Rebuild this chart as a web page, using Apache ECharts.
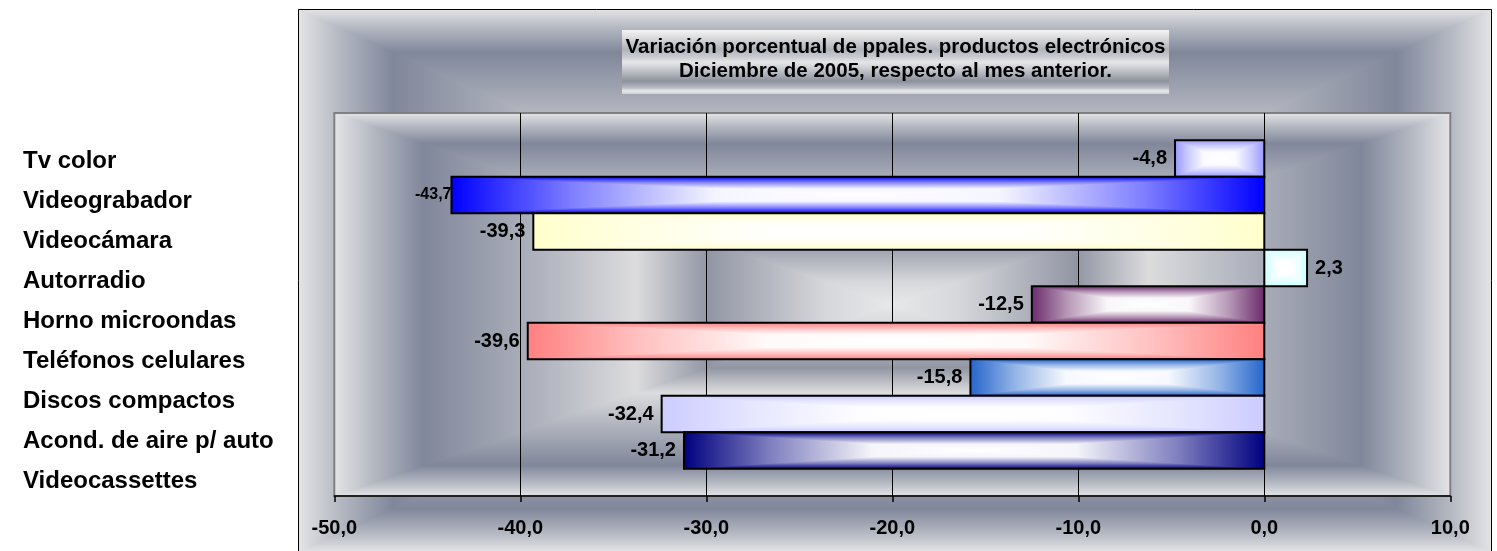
<!DOCTYPE html>
<html>
<head>
<meta charset="utf-8">
<script src="https://cdn.jsdelivr.net/npm/echarts/dist/echarts.min.js"></script>
<style>
html,body{margin:0;padding:0;background:#ffffff;}
#c{width:1497px;height:551px;}
</style>
</head>
<body>
<div id="c"></div>
<script>
// ---------- data ----------
const categories = ['Tv color','Videograbador','Videocámara','Autorradio','Horno microondas','Teléfonos celulares','Discos compactos','Acond. de aire p/ auto','Videocassettes'];
const values = [-4.8, -43.7, -39.3, 2.3, -12.5, -39.6, -15.8, -32.4, -31.2];
const axisMin = -50, axisMax = 10, axisStep = 10;
const titleLines = ['Variación porcentual de ppales. productos electrónicos', 'Diciembre de 2005, respecto al mes anterior.'];

// ---------- styles ----------
const barColors = ['#9999ff','#0000ff','#ffffcc','#ccffff','#6b2c6b','#ff8080','#2666cc','#ccccff','#000080'];
const labelSizes = [20,16,20,20,20,20,20,20,20];
const labelGaps = [8,0,8,8,8,8,8,8,8];
const FONT = "Arial, 'Liberation Sans', sans-serif";
const BAR_FILL = 328.5 / 383;

const GRID = {left: 334.3, top: 113, width: 1116, height: 383};
const FRAME = {x0: 298, y0: 9, x1: 1492, y1: 552};
const TBOX = {x0: 622, y0: 30, x1: 1169, y1: 94};

const bgStops = [
  [0.00,'#e8e8ea'],[0.12,'#d6d7db'],[0.33,'#9296a4'],[0.46,'#dcdcde'],
  [0.62,'#b3b6c0'],[0.84,'#80879a'],[0.93,'#b4b8c2'],[1.00,'#e4e4e6']
];

function hex(c){c=c.replace('#','');return [0,2,4].map(i=>parseInt(c.substr(i,2),16));}
function mix(a,b,f){const A=hex(a),B=hex(b);return 'rgb('+A.map((v,i)=>Math.round(v+(B[i]-v)*f)).join(',')+')';}

function rectGradient(x0,y0,x1,y1,stops,z){
  const cx=(x0+x1)/2, cy=(y0+y1)/2;
  const hs=[];
  for(let i=stops.length-1;i>=0;i--) hs.push({offset:(1-stops[i][0])/2,color:stops[i][1]});
  for(let i=1;i<stops.length;i++) hs.push({offset:(1+stops[i][0])/2,color:stops[i][1]});
  const top=stops.slice().reverse().map(s=>({offset:1-s[0],color:s[1]}));
  const bot=stops.map(s=>({offset:s[0],color:s[1]}));
  const els=[
    {type:'rect',shape:{x:x0,y:y0,width:x1-x0,height:y1-y0},style:{fill:new echarts.graphic.LinearGradient(0,0,1,0,hs)}},
    {type:'polygon',shape:{points:[[x0,y0],[x1,y0],[cx,cy]]},style:{fill:new echarts.graphic.LinearGradient(0,0,0,1,top)}},
    {type:'polygon',shape:{points:[[x0,y1],[x1,y1],[cx,cy]]},style:{fill:new echarts.graphic.LinearGradient(0,0,0,1,bot)}}
  ];
  if(z!==undefined) els.forEach(e=>{e.z=z;});
  return els;
}

function fmt(v){return v.toFixed(1).replace('.',',');}

const gx0=GRID.left, gy0=GRID.top, gx1=GRID.left+GRID.width, gy1=GRID.top+GRID.height;

const graphics = []
  .concat(rectGradient(FRAME.x0,FRAME.y0,FRAME.x1,FRAME.y1,bgStops,-100))
  .concat([{type:'polyline',z:-99,shape:{points:[[FRAME.x0+0.5,FRAME.y1],[FRAME.x0+0.5,FRAME.y0+0.5],[FRAME.x1-0.5,FRAME.y0+0.5],[FRAME.x1-0.5,FRAME.y1]]},style:{fill:null,stroke:'#000',lineWidth:1}}])
  .concat(rectGradient(gx0,gy0,gx1,gy1,bgStops,-98))
  .concat([{type:'rect',z:-97,shape:{x:gx0,y:gy0,width:GRID.width,height:GRID.height},style:{fill:null,stroke:'#808080',lineWidth:2}}])
  .concat([{type:'rect',z:-96,shape:{x:TBOX.x0,y:TBOX.y0,width:TBOX.x1-TBOX.x0,height:TBOX.y1-TBOX.y0},
    style:{fill:new echarts.graphic.LinearGradient(0,0,0,1,[
      {offset:0,color:'#f4f4f4'},{offset:0.1,color:'#e0e0e2'},{offset:0.3,color:'#b0b3bc'},
      {offset:0.42,color:'#c8cad0'},{offset:0.5,color:'#e6e6e8'},{offset:0.58,color:'#d0d2d6'},
      {offset:0.8,color:'#8c909c'},{offset:0.9,color:'#b8bac2'},{offset:0.95,color:'#e8e8ea'},{offset:1,color:'#d0d0d4'}])}}])
  .concat([{type:'text',z:10,style:{text:titleLines.join('\n'),x:(TBOX.x0+TBOX.x1)/2,y:35,align:'center',verticalAlign:'top',
    font:'bold 20.5px '+FONT,lineHeight:24,fill:'#000'}}]);

const chart = echarts.init(document.getElementById('c'), null, {renderer:'canvas'});
chart.setOption({
  animation:false,
  backgroundColor:'#ffffff',
  graphic:{elements:graphics},
  legend:{
    data:categories, orient:'vertical', left:13, top:144,
    itemWidth:0, itemHeight:24, itemGap:16, icon:'rect', selectedMode:false,
    itemStyle:{opacity:0},
    textStyle:{fontSize:24, fontWeight:'bold', fontFamily:FONT, color:'#000', lineHeight:24}
  },
  grid:{left:GRID.left, top:GRID.top, width:GRID.width, height:GRID.height, containLabel:false, outerBoundsMode:'none'},
  xAxis:{
    type:'value', min:axisMin, max:axisMax, interval:axisStep,
    axisLine:{show:true, onZero:false, lineStyle:{color:'#000', width:1.5}},
    axisTick:{show:true, length:6, inside:false, lineStyle:{color:'#000', width:1.5}},
    axisLabel:{formatter:fmt, fontSize:20, fontWeight:'bold', fontFamily:FONT, color:'#000', margin:22},
    splitLine:{show:true, showMinLine:false, showMaxLine:false, lineStyle:{color:'#000', width:1}}
  },
  yAxis:{
    type:'category', data:[''],
    axisLine:{show:false}, axisTick:{show:false}, axisLabel:{show:false}, splitLine:{show:false}
  },
  series: categories.map((name,i)=>({
    type:'custom', name:name, data:[[values[i],0]],
    encode:{x:0,y:1},
    itemStyle:{color:barColors[i]},
    z:5,
    renderItem:function(params,api){
      const v=api.value(0);
      const p0=api.coord([0,0]);
      const p1=api.coord([v,0]);
      const band=api.size([0,1])[1];
      const total=band*BAR_FILL;
      const h=total/categories.length;
      const yTop=p0[1]-total/2+i*h;
      const xl=Math.min(p0[0],p1[0]), xr=Math.max(p0[0],p1[0]);
      const c=barColors[i];
      const stops=[[0,'#ffffff'],[0.35,mix('#ffffff',c,0.04)],[0.7,mix('#ffffff',c,0.5)],[1,c]];
      const children=rectGradient(xl,yTop,xr,yTop+h,stops);
      children.push({type:'rect',shape:{x:xl,y:yTop,width:xr-xl,height:h},style:{fill:null,stroke:'#000',lineWidth:2}});
      const neg=v<0;
      children.push({type:'text',style:{text:fmt(v),x:neg?xl-labelGaps[i]:xr+labelGaps[i],y:yTop+h/2,
        align:neg?'right':'left',verticalAlign:'middle',font:'bold '+labelSizes[i]+'px '+FONT,fill:'#000'}});
      return {type:'group',children:children};
    }
  }))
});
</script>
</body>
</html>
